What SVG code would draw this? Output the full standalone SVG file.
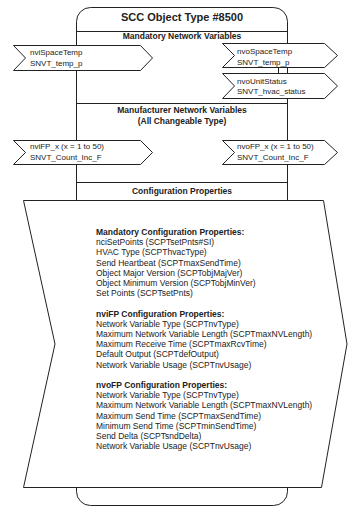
<svg xmlns="http://www.w3.org/2000/svg" width="348" height="508" viewBox="0 0 348 508">
  <style>
    .frame { fill: #ffffff; stroke: #222222; stroke-width: 1; }
    .rule { stroke: #222222; stroke-width: 1; fill: none; }
    text { font-family: "Liberation Sans", Arial, sans-serif; fill: #222222; }
    .title { font-size: 11px; font-weight: bold; text-anchor: middle; }
    .head { font-size: 8.5px; font-weight: bold; text-anchor: middle; }
    .nv { font-size: 8px; }
    .cp { font-size: 8.5px; }
    .cph { font-size: 8.5px; font-weight: bold; }
  </style>

  <!-- object block outline with section rules -->
  <g id="object-block">
    <rect class="frame" x="76.5" y="7.5" width="211" height="498" rx="14" ry="14"/>
    <line class="rule" x1="76.5" y1="31.5" x2="287.5" y2="31.5"/>
    <line class="rule" x1="76.5" y1="103.5" x2="287.5" y2="103.5"/>
    <line class="rule" x1="76.5" y1="182.5" x2="287.5" y2="182.5"/>
    <text class="title" x="182" y="21">SCC Object Type #8500</text>
    <text class="head" x="182" y="39">Mandatory Network Variables</text>
    <text class="head" x="182" y="113">Manufacturer Network Variables</text>
    <text class="head" x="182" y="124">(All Changeable Type)</text>
    <text class="head" x="182" y="194">Configuration Properties</text>
  </g>

  <!-- connector stub between the two output variables -->
  <g id="connectors">
    <line class="rule" x1="278.5" y1="68" x2="278.5" y2="73"/>
  </g>

  <g id="nviSpaceTemp">
    <polygon class="frame" points="13.5,45.5 140.5,45.5 152.5,58 140.5,70.5 13.5,70.5 25.5,58"/>
    <text class="nv" x="30" y="55">nviSpaceTemp</text>
    <text class="nv" x="30" y="66">SNVT_temp_p</text>
  </g>

  <g id="nvoSpaceTemp">
    <polygon class="frame" points="222.5,43.5 324.5,43.5 337.5,55.5 324.5,67.5 222.5,67.5 234.5,55.5"/>
    <text class="nv" x="237" y="53.5">nvoSpaceTemp</text>
    <text class="nv" x="237" y="64.5">SNVT_temp_p</text>
  </g>

  <g id="nvoUnitStatus">
    <polygon class="frame" points="222.5,73.5 324.5,73.5 337.5,86 324.5,98.5 222.5,98.5 234.5,86"/>
    <text class="nv" x="237" y="83.5">nvoUnitStatus</text>
    <text class="nv" x="237" y="94">SNVT_hvac_status</text>
  </g>

  <g id="nviFP">
    <polygon class="frame" points="13.5,140.5 140.5,140.5 152.5,152.5 140.5,164.5 13.5,164.5 25.5,152.5"/>
    <text class="nv" x="30" y="149">nviFP_x (x = 1 to 50)</text>
    <text class="nv" x="30" y="160">SNVT_Count_Inc_F</text>
  </g>

  <g id="nvoFP">
    <polygon class="frame" points="222.5,140.5 324.5,140.5 337.5,152.5 324.5,164.5 222.5,164.5 234.5,152.5"/>
    <text class="nv" x="237" y="149">nvoFP_x (x = 1 to 50)</text>
    <text class="nv" x="237" y="160">SNVT_Count_Inc_F</text>
  </g>

  <g id="config-properties">
    <polygon class="frame" points="23.5,200.5 323.5,200.5 347,344 321.5,487.5 23.5,487.5 55,344"/>
    <text class="cph" x="96" y="235">Mandatory Configuration Properties:</text>
    <text class="cp" x="96" y="245.2">nciSetPoints (SCPTsetPnts#SI)</text>
    <text class="cp" x="96" y="255.4">HVAC Type (SCPThvacType)</text>
    <text class="cp" x="96" y="265.6">Send Heartbeat (SCPTmaxSendTime)</text>
    <text class="cp" x="96" y="275.8">Object Major Version (SCPTobjMajVer)</text>
    <text class="cp" x="96" y="286">Object Minimum Version (SCPTobjMinVer)</text>
    <text class="cp" x="96" y="296.2">Set Points (SCPTsetPnts)</text>
    <text class="cph" x="96" y="316.6">nviFP Configuration Properties:</text>
    <text class="cp" x="96" y="326.8">Network Variable Type (SCPTnvType)</text>
    <text class="cp" x="96" y="337">Maximum Network Variable Length (SCPTmaxNVLength)</text>
    <text class="cp" x="96" y="347.2">Maximum Receive Time (SCPTmaxRcvTime)</text>
    <text class="cp" x="96" y="357.4">Default Output (SCPTdefOutput)</text>
    <text class="cp" x="96" y="367.6">Network Variable Usage (SCPTnvUsage)</text>
    <text class="cph" x="96" y="388">nvoFP Configuration Properties:</text>
    <text class="cp" x="96" y="398.2">Network Variable Type (SCPTnvType)</text>
    <text class="cp" x="96" y="408.4">Maximum Network Variable Length (SCPTmaxNVLength)</text>
    <text class="cp" x="96" y="418.6">Maximum Send Time (SCPTmaxSendTime)</text>
    <text class="cp" x="96" y="428.8">Minimum Send Time (SCPTminSendTime)</text>
    <text class="cp" x="96" y="439">Send Delta (SCPTsndDelta)</text>
    <text class="cp" x="96" y="449.2">Network Variable Usage (SCPTnvUsage)</text>
  </g>
</svg>
